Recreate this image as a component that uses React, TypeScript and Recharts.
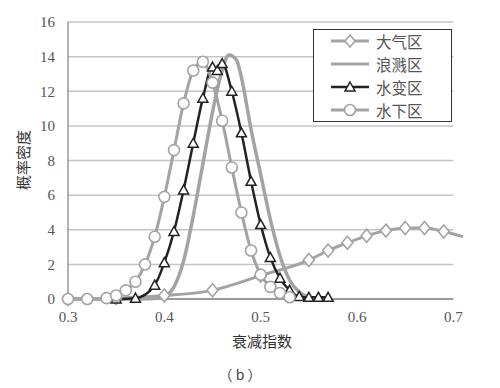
import React from 'react';
import { LineChart, Line, XAxis, YAxis, ReferenceLine, Legend } from 'recharts';

// ---- data ----
const xTicks = [0.3, 0.4, 0.5, 0.6, 0.7];
const yTicks = [0, 2, 4, 6, 8, 10, 12, 14, 16];
const gridValues = [2, 4, 6, 8, 10, 12, 14, 16];

const daqiX = [0.30, 0.35, 0.40, 0.45, 0.50, 0.55, 0.57, 0.59, 0.61, 0.63, 0.65, 0.67, 0.69, 0.71];
const daqiY = [0, 0.05, 0.2, 0.5, 1.35, 2.25, 2.8, 3.25, 3.65, 3.95, 4.1, 4.1, 3.9, 3.6];

const langjianX = [0.30, 0.36, 0.39, 0.40, 0.41, 0.42, 0.43, 0.44, 0.45, 0.46, 0.467, 0.475, 0.48, 0.49, 0.50, 0.51, 0.52, 0.53, 0.54, 0.55, 0.56];
const langjianY = [0, 0, 0.03, 0.15, 0.7, 2.2, 4.8, 7.8, 10.8, 13.2, 14.1, 13.8, 12.8, 9.8, 7.2, 4.6, 2.5, 1.1, 0.4, 0.1, 0];

const shuibianX = [0.35, 0.37, 0.39, 0.40, 0.41, 0.42, 0.43, 0.44, 0.45, 0.455, 0.46, 0.47, 0.48, 0.49, 0.50, 0.51, 0.52, 0.53, 0.54, 0.55, 0.56, 0.57];
const shuibianY = [0, 0.05, 0.8, 2.1, 3.9, 6.3, 9.0, 11.6, 13.4, 13.2, 13.6, 12.0, 9.6, 6.8, 4.3, 2.4, 1.2, 0.5, 0.15, 0.1, 0.1, 0.1];

const shuixiaX = [0.30, 0.32, 0.34, 0.35, 0.36, 0.37, 0.38, 0.39, 0.40, 0.41, 0.42, 0.43, 0.44, 0.45, 0.46, 0.47, 0.48, 0.49, 0.50, 0.51, 0.52, 0.53];
const shuixiaY = [0, 0, 0.05, 0.2, 0.5, 1.0, 2.0, 3.6, 5.9, 8.6, 11.3, 13.2, 13.7, 12.5, 10.3, 7.6, 5.0, 2.8, 1.4, 0.7, 0.35, 0.1];

const seriesNames = ['大气区', '浪溅区', '水变区', '水下区'];

const toData = (xs: number[], ys: number[]) => xs.map((x, i) => ({ x, y: ys[i] }));
const daqiData = toData(daqiX, daqiY);
const langjianData = toData(langjianX, langjianY);
const shuibianData = toData(shuibianX, shuibianY);
const shuixiaData = toData(shuixiaX, shuixiaY);

// ---- styles ----
const GRAY = '#a3a3a3';
const DARK = '#222222';
const numFont = '"Liberation Serif", "DejaVu Serif", serif';
const cjkFont = '"Noto Sans CJK SC", sans-serif';

const diamondDot = (p: any) => {
  const k = `d${p.index}`;
  if (p.cx == null || p.cy == null || (p.payload && p.payload.x > 0.7)) return <g key={k} />;
  const { cx, cy } = p;
  return (
    <path key={k} d={`M${cx},${cy - 6.5} L${cx + 5.5},${cy} L${cx},${cy + 6.5} L${cx - 5.5},${cy} Z`}
      fill="#fff" stroke={GRAY} strokeWidth={1.6} />
  );
};
const triangleDot = (p: any) => {
  const k = `t${p.index}`;
  if (p.cx == null || p.cy == null) return <g key={k} />;
  const { cx, cy } = p;
  return (
    <path key={k} d={`M${cx},${cy - 5} L${cx + 5},${cy + 4} L${cx - 5},${cy + 4} Z`}
      fill="#fff" stroke={DARK} strokeWidth={1.5} />
  );
};
const circleDot = (p: any) => {
  const k = `c${p.index}`;
  if (p.cx == null || p.cy == null) return <g key={k} />;
  return <circle key={k} cx={p.cx} cy={p.cy} r={5.5} fill="#fff" stroke={GRAY} strokeWidth={1.6} />;
};

const LegendContent = () => {
  const rows = [
    { name: seriesNames[0], color: GRAY, w: 3, marker: 'diamond' },
    { name: seriesNames[1], color: GRAY, w: 3, marker: 'none' },
    { name: seriesNames[2], color: DARK, w: 2.5, marker: 'triangle' },
    { name: seriesNames[3], color: GRAY, w: 3, marker: 'circle' },
  ];
  return (
    <div style={{ width: 139, height: 93, border: '1px solid #333', boxSizing: 'border-box', background: '#fff', position: 'relative' }}>
      {rows.map((r, i) => {
        const cy = 11 + i * 23;
        return (
          <div key={r.name} style={{ position: 'absolute', left: 0, top: cy - 10, height: 20, width: 137 }}>
            <svg width={50} height={20} style={{ position: 'absolute', left: 17, top: 0 }}>
              <line x1={0} y1={10} x2={38} y2={10} stroke={r.color} strokeWidth={r.w} />
              {r.marker === 'diamond' && <path d="M19,4 L24,10 L19,16 L14,10 Z" fill="#fff" stroke={GRAY} strokeWidth={1.6} />}
              {r.marker === 'triangle' && <path d="M19,5 L24,14 L14,14 Z" fill="#fff" stroke={DARK} strokeWidth={1.5} />}
              {r.marker === 'circle' && <circle cx={19} cy={10} r={5.5} fill="#fff" stroke={GRAY} strokeWidth={1.6} />}
            </svg>
            <span style={{ position: 'absolute', left: 62, top: 0, lineHeight: '20px', fontSize: 15.5, fontFamily: cjkFont, color: '#555', whiteSpace: 'nowrap' }}>{r.name}</span>
          </div>
        );
      })}
    </div>
  );
};

export default function App() {
  return (
    <div style={{ position: 'absolute', left: 0, top: 0, width: 500, height: 388, background: '#fff' }}>
      <LineChart width={500} height={388} margin={{ top: 22, right: 37, bottom: 59, left: 0 }}>
        <XAxis type="number" dataKey="x" domain={[0.3, 0.71]} ticks={xTicks} height={30}
          axisLine={false} tickLine={false} tickMargin={6} interval={0}
          tickFormatter={(v: number) => v.toFixed(1)}
          tick={{ fontSize: 15, fontFamily: numFont, fill: '#555' }} />
        <YAxis type="number" dataKey="y" domain={[0, 16]} ticks={yTicks} width={68}
          axisLine={{ stroke: '#9a9a9a', strokeWidth: 1.5 }} tickLine={false} tickMargin={7} interval={0}
          tick={{ fontSize: 15, fontFamily: numFont, fill: '#555' }} />
        {gridValues.map((g) => (
          <ReferenceLine key={`g${g}`} segment={[{ x: 0.3, y: g }, { x: 0.7, y: g }]}
            stroke="#c4c4c4" strokeWidth={1.5} />
        ))}
        <ReferenceLine segment={[{ x: 0.3, y: 0 }, { x: 0.7, y: 0 }]} stroke="#7a7a7a" strokeWidth={1.5} />
        <Legend layout="vertical" align="center" verticalAlign="middle" content={<LegendContent />}
          wrapperStyle={{ left: 313, top: 29, width: 139, height: 93 }} />
        <Line name={seriesNames[0]} data={daqiData} dataKey="y" type="monotone" stroke={GRAY} strokeWidth={3}
          dot={diamondDot} activeDot={false} isAnimationActive={false} />
        <Line name={seriesNames[1]} data={langjianData} dataKey="y" type="monotone" stroke={GRAY} strokeWidth={3.5}
          dot={false} activeDot={false} isAnimationActive={false} />
        <Line name={seriesNames[2]} data={shuibianData} dataKey="y" type="monotone" stroke={DARK} strokeWidth={2.5}
          dot={triangleDot} activeDot={false} isAnimationActive={false} />
        <Line name={seriesNames[3]} data={shuixiaData} dataKey="y" type="monotone" stroke={GRAY} strokeWidth={3}
          dot={circleDot} activeDot={false} isAnimationActive={false} />
      </LineChart>
      <div style={{ position: 'absolute', left: 22, top: 160, transform: 'translate(-50%, -50%) rotate(-90deg)', fontSize: 15, fontFamily: cjkFont, color: '#333', whiteSpace: 'nowrap' }}>概率密度</div>
      <div style={{ position: 'absolute', left: 262, top: 340, transform: 'translate(-50%, -50%)', fontSize: 15, fontFamily: cjkFont, color: '#333', whiteSpace: 'nowrap' }}>衰减指数</div>
      <div style={{ position: 'absolute', left: 240, top: 374, transform: 'translate(-50%, -50%)', fontSize: 14, fontFamily: cjkFont, color: '#444', whiteSpace: 'nowrap' }}>（ b ）</div>
    </div>
  );
}
